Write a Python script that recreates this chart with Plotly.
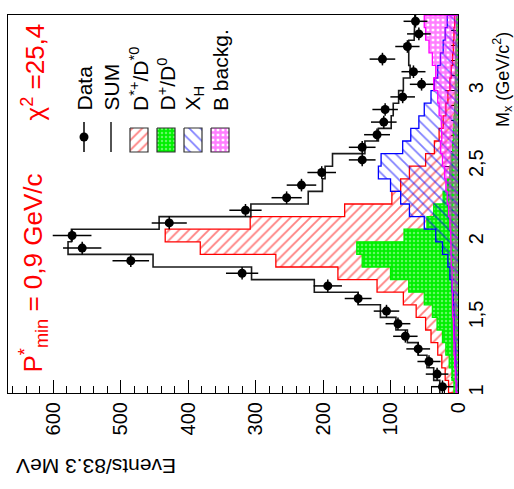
import numpy as np
import plotly.graph_objects as go

# M_X binning: 30 bins of 83.3 MeV between 1 and 3.5 GeV/c^2
mx_lo, mx_hi, n_bins = 1.0, 3.5, 30

# Observed events per bin and their uncertainties
data_n = [23, 31, 43, 59, 78, 89, 106, 148, 193, 320, 485, 557, 572, 428, 315,
          254, 232, 202, 142, 142, 120, 110, 108, 82, 54, 66, 112, 75, 58, 63]
data_err = [16.5, 16.8, 17.1, 17.6, 18.1, 18.4, 18.9, 19.9, 21.0, 23.9, 27.1, 28.4,
            28.7, 26.0, 23.9, 22.4, 21.9, 21.2, 19.8, 19.8, 19.2, 19.0, 18.9, 18.2,
            17.4, 17.8, 19.0, 18.0, 17.5, 17.7]

# Fit components
dstar = [14, 19, 24, 30, 40, 48, 62, 81, 120, 178, 270, 382, 434, 308, 168,
         98, 85, 72, 48, 35, 28, 22, 18, 15, 12, 10, 8, 7, 6, 5]
dplus = [6, 9, 13, 18, 23, 31, 38, 50, 73, 100, 142, 150, 80, 46, 36,
         22, 16, 12, 10, 8, 7, 6, 5, 4, 4, 3, 3, 3, 2, 2]
xh = [2, 3, 3, 4, 5, 5, 6, 7, 9, 12, 15, 23, 33, 50, 72,
      85, 100, 118, 114, 82, 70, 58, 50, 40, 35, 30, 26, 22, 19, 16]
bbkg = [3, 4, 5, 6, 6, 7, 8, 8, 9, 9, 10, 10, 11, 12, 14,
        16, 18, 20, 23, 26, 24, 25, 28, 30, 36, 33, 38, 43, 48, 50]
fit_sum = [27, 36, 46, 59, 75, 92, 115, 148, 213, 306, 452, 578, 573, 443, 307,
           222, 201, 197, 186, 138, 118, 99, 96, 88, 81, 71, 73, 73, 65, 64]

# Axis ticks
n_ticks = [0, 100, 200, 300, 400, 500, 600]
mx_ticks = [1.0, 1.5, 2.0, 2.5, 3.0, 3.5]
mx_ticktext = ["1", "1,5", "2", "2,5", "3", "3,5"]

edges = np.linspace(mx_lo, mx_hi, n_bins + 1)
centers = 0.5 * (edges[:-1] + edges[1:])
half_w = 0.5 * (edges[1] - edges[0])

FONT = "Liberation Sans, Arial, Helvetica, sans-serif"


def step_outline(values, closed=True):
    """Rotated histogram outline: value on the horizontal axis, M_X vertical."""
    xs, ys = ([0.0], [edges[0]]) if closed else ([], [])
    for i, v in enumerate(values):
        xs += [v, v]
        ys += [edges[i], edges[i + 1]]
    if closed:
        xs.append(0.0)
        ys.append(edges[-1])
    return xs, ys


fig = go.Figure()

components = [
    (dstar, "#ff0000", dict(shape="/", fgcolor="#ff0000", size=7, solidity=0.26)),
    (dplus, "#00ee00", dict(shape=".", fgcolor="#c8ffc8", bgcolor="#00f000", size=4, solidity=0.3)),
    (xh, "#0000ff", dict(shape="\\", fgcolor="#0000ff", size=8, solidity=0.22)),
    (bbkg, "#ff00ff", dict(shape="+", fgcolor="#ff00ff", size=5, solidity=0.72)),
]
for vals, col, pat in components:
    xs, ys = step_outline(vals)
    fig.add_trace(go.Scatter(x=xs, y=ys, mode="lines", fill="toself",
                             fillcolor="rgba(0,0,0,0)", fillpattern=pat,
                             line=dict(color=col, width=1.3), hoverinfo="skip",
                             showlegend=False))

# Total fit
xs, ys = step_outline(fit_sum, closed=False)
fig.add_trace(go.Scatter(x=xs, y=ys, mode="lines",
                         line=dict(color="#1a1a1a", width=1.6),
                         hoverinfo="skip", showlegend=False))

# Data with errors
fig.add_trace(go.Scatter(
    x=data_n, y=centers, mode="markers",
    marker=dict(symbol="circle", size=9, color="black"),
    error_x=dict(type="data", array=data_err, width=0, thickness=1.5, color="black"),
    error_y=dict(type="constant", value=half_w, width=0, thickness=1.5, color="black"),
    showlegend=False))

# Legend, drawn in page-pixel coordinates on an overlay axis pair
leg_x = [84, 111, 139, 166, 193, 220]
leg_labels = ["Data", "SUM", "D<sup>*+</sup>/D<sup>*0</sup>", "D<sup>+</sup>/D<sup>0</sup>",
              "X<sub>H</sub>", "B backg."]
fig.add_trace(go.Scatter(x=[leg_x[0]] * 2, y=[122, 152], mode="lines",
                         line=dict(color="black", width=1.5), xaxis="x2", yaxis="y2",
                         showlegend=False, hoverinfo="skip"))
fig.add_trace(go.Scatter(x=[leg_x[0]], y=[137], mode="markers",
                         marker=dict(size=9, color="black"), xaxis="x2", yaxis="y2",
                         showlegend=False, hoverinfo="skip"))
fig.add_trace(go.Scatter(x=[leg_x[1]] * 2, y=[122, 152], mode="lines",
                         line=dict(color="#1a1a1a", width=1.5), xaxis="x2", yaxis="y2",
                         showlegend=False, hoverinfo="skip"))
for cx, (vals, col, pat) in zip(leg_x[2:], components):
    fig.add_trace(go.Scatter(x=[cx - 9, cx + 9, cx + 9, cx - 9, cx - 9],
                             y=[128, 128, 152, 152, 128], mode="lines", fill="toself",
                             fillcolor="rgba(0,0,0,0)", fillpattern=pat,
                             line=dict(color="#333333", width=1.2),
                             xaxis="x2", yaxis="y2", showlegend=False, hoverinfo="skip"))

L, R, T, B = 8, 458, 15, 393


def px(x):
    return (x - L) / (R - L)


def py(y):
    return (B - y) / (B - T)


annotations = []
for cx, lab in zip(leg_x, leg_labels):
    annotations.append(dict(x=px(cx), y=py(113), xref="paper", yref="paper", text=lab,
                            textangle=-90, xanchor="center", yanchor="bottom",
                            showarrow=False, font=dict(family=FONT, size=21, color="black")))

annotations += [
    dict(x=px(96), y=py(467), xref="paper", yref="paper", text="Events/83.3 MeV",
         textangle=180, showarrow=False, xanchor="center", yanchor="middle",
         font=dict(family=FONT, size=21, color="black")),
    dict(x=px(502), y=py(80), xref="paper", yref="paper",
         text="M<sub>x</sub> (GeV/c<sup>2</sup>)", textangle=-90, showarrow=False,
         xanchor="center", yanchor="middle", font=dict(family=FONT, size=18, color="black")),
    dict(x=px(33), y=py(375), xref="paper", yref="paper",
         text="P<sup>*</sup><sub>min</sub> = 0,9 GeV/c", textangle=-90, showarrow=False,
         xanchor="center", yanchor="bottom", font=dict(family=FONT, size=26, color="#ff0000")),
    dict(x=px(34), y=py(123), xref="paper", yref="paper",
         text="χ<sup>2</sup> =25,4", textangle=-90, showarrow=False,
         xanchor="center", yanchor="bottom", font=dict(family=FONT, size=26, color="#ff0000")),
]

fig.update_layout(
    width=514, height=489,
    margin=dict(l=L, r=514 - R, t=T, b=489 - B),
    paper_bgcolor="white", plot_bgcolor="white",
    font=dict(family=FONT, size=20, color="black"),
    showlegend=False,
    annotations=annotations,
    xaxis=dict(range=[667, 0], tickvals=n_ticks, tickangle=-90,
               ticks="inside", ticklen=13, tickwidth=1, tickcolor="black",
               minor=dict(dtick=20, ticks="inside", ticklen=7, tickwidth=1, tickcolor="black"),
               showline=True, linecolor="black", linewidth=1, mirror=True,
               showgrid=False, zeroline=False, tickfont=dict(size=20)),
    yaxis=dict(range=[mx_lo, mx_hi], side="right", tickvals=mx_ticks, ticktext=mx_ticktext,
               tickangle=-90, ticks="inside", ticklen=13, tickwidth=1, tickcolor="black",
               minor=dict(dtick=0.1, ticks="inside", ticklen=7, tickwidth=1, tickcolor="black"),
               showline=True, linecolor="black", linewidth=1, mirror=True,
               showgrid=False, zeroline=False, layer="below traces", tickfont=dict(size=20)),
    xaxis2=dict(overlaying="x", anchor="y2", range=[L, R], visible=False),
    yaxis2=dict(overlaying="y", anchor="x2", range=[B, T], visible=False),
)

fig.write_html("out.html")
